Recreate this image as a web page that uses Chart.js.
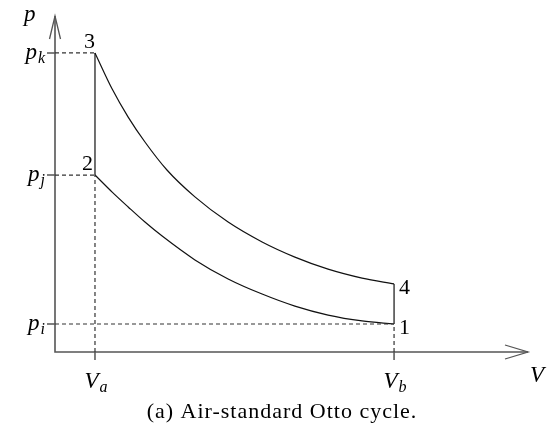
<!DOCTYPE html>
<html>
<head>
<meta charset="utf-8">
<script src="https://cdn.jsdelivr.net/npm/chart.js@4"></script>
<style>
  html, body { margin: 0; padding: 0; background: #fff; }
  canvas { display: block; }
</style>
</head>
<body>
<canvas id="otto" width="556" height="434"></canvas>
<script>
// state points of the cycle (arbitrary units)
const V_A = 1.0;
const V_B = 8.48;
const P_I = 1.0;
const P_J = 6.32;
const P_K = 10.68;
const P_4 = 2.43;

// 3 -> 4 expansion curve
const expansionV = [1.0, 1.43, 1.83, 2.25, 2.8, 3.5, 4.33, 5.18, 6.0, 6.83, 7.68, 8.48];
const expansionP = [10.68, 9.39, 8.39, 7.5, 6.5, 5.54, 4.64, 3.93, 3.39, 2.96, 2.64, 2.43];

// 1 -> 2 compression curve
const compressionV = [1.0, 1.43, 1.83, 2.25, 2.68, 3.5, 4.33, 5.18, 6.0, 6.83, 7.68, 8.48];
const compressionP = [6.32, 5.71, 5.18, 4.64, 4.14, 3.29, 2.61, 2.07, 1.64, 1.32, 1.11, 1.0];

// tick labels
const pTickValues = [P_I, P_J, P_K];
const pTickSubs = ['i', 'j', 'k'];
const vTickValues = [V_A, V_B];
const vTickSubs = ['a', 'b'];

// state numbers
const stateNames = ['1', '2', '3', '4'];
const stateV = [V_B, V_A, V_A, V_B];
const stateP = [P_I, P_J, P_K, P_4];

const X_MAX = 11.83;
const Y_MAX = 12;

const SERIF = '"Liberation Serif", "DejaVu Serif", serif';
const AXIS_COLOR = '#555';

const toPts = (xs, ys) => xs.map((x, i) => ({ x: x, y: ys[i] }));

const solid = (data) => ({
    data: data,
    showLine: true,
    borderColor: '#111',
    borderWidth: 1.2,
    pointRadius: 0,
    cubicInterpolationMode: 'monotone',
    clip: false
});

const dashed = (data) => ({
    data: data,
    showLine: true,
    borderColor: '#333',
    borderWidth: 1.2,
    borderDash: [4, 3],
    pointRadius: 0,
    clip: false
});

// axes, arrows, ticks and math labels
const sketchAxes = {
    id: 'sketchAxes',
    beforeDatasetsDraw(chart) {
        const { ctx, scales: { x, y } } = chart;
        const x0 = x.getPixelForValue(0), xEnd = x.getPixelForValue(X_MAX);
        const y0 = y.getPixelForValue(0), yEnd = y.getPixelForValue(Y_MAX);
        ctx.save();
        ctx.strokeStyle = AXIS_COLOR;
        ctx.lineWidth = 1.6;
        ctx.lineCap = 'butt';
        ctx.beginPath();
        ctx.moveTo(x0, yEnd);
        ctx.lineTo(x0, y0);
        ctx.lineTo(xEnd, y0);
        ctx.stroke();
        // arrow heads
        ctx.lineWidth = 1.3;
        ctx.beginPath();
        ctx.moveTo(x0 - 5.5, yEnd + 23);
        ctx.lineTo(x0, yEnd);
        ctx.lineTo(x0 + 5.5, yEnd + 23);
        ctx.moveTo(xEnd - 23, y0 - 7);
        ctx.lineTo(xEnd, y0);
        ctx.lineTo(xEnd - 23, y0 + 7);
        ctx.stroke();
        // ticks
        ctx.lineWidth = 1.5;
        ctx.beginPath();
        pTickValues.forEach(v => {
            const py = y.getPixelForValue(v);
            ctx.moveTo(x0 - 8, py);
            ctx.lineTo(x0, py);
        });
        vTickValues.forEach(v => {
            const px = x.getPixelForValue(v);
            ctx.moveTo(px, y0);
            ctx.lineTo(px, y0 + 8);
        });
        ctx.stroke();
        ctx.restore();
    },
    afterDraw(chart) {
        const { ctx, scales: { x, y } } = chart;
        const x0 = x.getPixelForValue(0);
        const y0 = y.getPixelForValue(0);
        const baseFont = 'italic 23px ' + SERIF;
        const subFont = 'italic 16px ' + SERIF;
        ctx.save();
        ctx.fillStyle = '#000';
        ctx.textBaseline = 'alphabetic';
        ctx.textAlign = 'left';

        // base letter + subscript, anchored by its right edge or centre
        const mathLabel = (base, sub, px, baseline, align) => {
            ctx.font = baseFont;
            const wb = ctx.measureText(base).width;
            ctx.font = subFont;
            const ws = ctx.measureText(sub).width;
            const total = wb + 1 + ws;
            let left = px;
            if (align === 'right') left = px - total;
            if (align === 'center') left = px - total / 2;
            ctx.font = baseFont;
            ctx.fillText(base, left, baseline);
            ctx.font = subFont;
            ctx.fillText(sub, left + wb + 1, baseline + 4);
        };

        pTickValues.forEach((v, i) => {
            mathLabel('p', pTickSubs[i], x0 - 10, y.getPixelForValue(v) + 6, 'right');
        });
        vTickValues.forEach((v, i) => {
            mathLabel('V', vTickSubs[i], x.getPixelForValue(v) + 1, y0 + 36, 'center');
        });

        // axis names
        ctx.font = baseFont;
        ctx.fillText('p', x0 - 31, y.getPixelForValue(Y_MAX) + 5);
        ctx.fillText('V', x.getPixelForValue(X_MAX) + 2, y0 + 30);

        // state numbers
        ctx.font = '22px ' + SERIF;
        stateNames.forEach((name, i) => {
            const px = x.getPixelForValue(stateV[i]);
            const py = y.getPixelForValue(stateP[i]);
            if (stateV[i] === V_A) {
                ctx.textAlign = 'right';
                ctx.fillText(name, px - (name === '2' ? 2 : 0), py - 5);
            } else {
                ctx.textAlign = 'left';
                ctx.fillText(name, px + 5, py + 10);
            }
        });

        // caption
        ctx.textAlign = 'center';
        ctx.font = '22px ' + SERIF;
        ctx.letterSpacing = '1px';
        ctx.fillText('(a) Air-standard Otto cycle.', 282, 418);
        ctx.restore();
    }
};

new Chart(document.getElementById('otto'), {
    type: 'scatter',
    data: {
        datasets: [
            dashed([{ x: 0, y: P_K }, { x: V_A, y: P_K }]),
            dashed([{ x: 0, y: P_J }, { x: V_A, y: P_J }]),
            dashed([{ x: V_A, y: 0 }, { x: V_A, y: P_J }]),
            dashed([{ x: 0, y: P_I }, { x: V_B, y: P_I }]),
            dashed([{ x: V_B, y: 0 }, { x: V_B, y: P_I }]),
            solid(toPts(expansionV, expansionP)),
            solid(toPts(compressionV, compressionP)),
            solid([{ x: V_A, y: P_J }, { x: V_A, y: P_K }]),
            solid([{ x: V_B, y: P_I }, { x: V_B, y: P_4 }])
        ]
    },
    options: {
        responsive: false,
        animation: false,
        devicePixelRatio: 1,
        layout: { padding: { left: 55, right: 28, top: 16, bottom: 82 } },
        scales: {
            x: { type: 'linear', min: 0, max: X_MAX, display: false },
            y: { type: 'linear', min: 0, max: Y_MAX, display: false }
        },
        plugins: {
            legend: { display: false },
            tooltip: { enabled: false }
        }
    },
    plugins: [sketchAxes]
});
</script>
</body>
</html>
